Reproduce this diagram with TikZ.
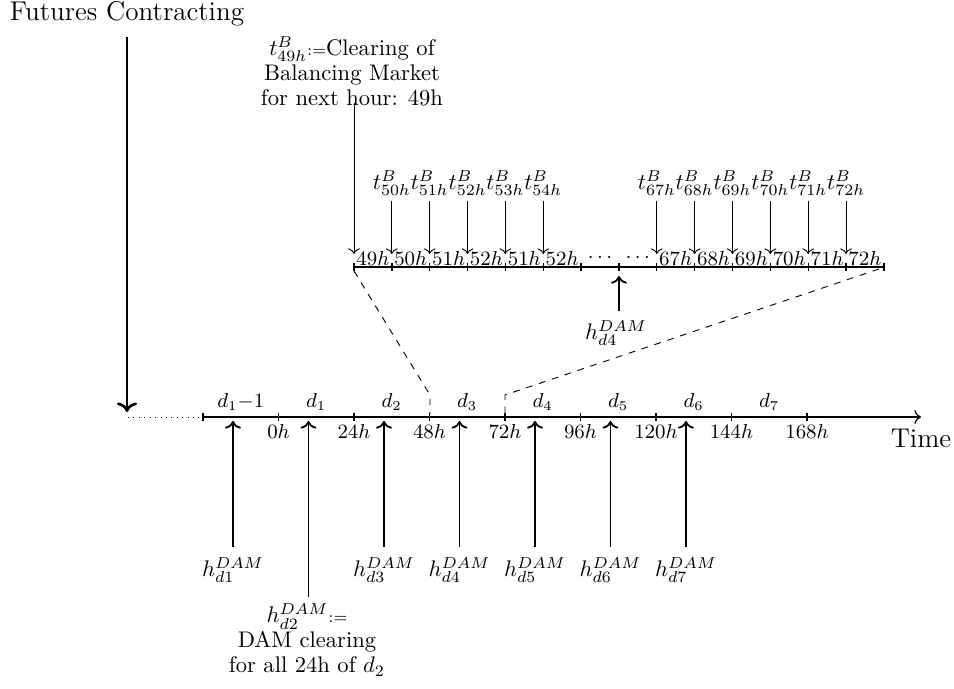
\documentclass[tikz,border=0pt]{standalone}
\usetikzlibrary{arrows.meta}
\begin{document}
\begin{tikzpicture}[x=0.443pt,y=-0.443pt,
  lbl/.style={inner sep=0pt},
  smalllbl/.style={inner sep=0pt,font=\small},
  blk/.style={inner sep=0pt,align=center,font=\fontsize{10}{11}\selectfont},
  bigarrow/.style={very thick,->},
  uparrow/.style={thick,->},
  thinarrow/.style={->},
  axisline/.style={semithick},
  tickmark/.style={semithick}]
\useasboundingbox (0,0) rectangle (954,689);

% Futures contracting
\node[lbl,font=\large] (fc) at (127,14) {Futures Contracting};
\coordinate (fcA) at (127,37);
\coordinate (fcB) at (127,412);
\draw[bigarrow] (fcA) -- (fcB);

% main axis
\coordinate (ax0) at (203,417);
\coordinate (axE) at (921,417);
\coordinate (dotS) at (128,417);
\draw[dotted] (dotS) -- (ax0);
\draw[axisline,->] (ax0) -- (axE);
\foreach \i in {0,...,8} {
  \coordinate (t\i) at (203+75.5*\i,417);
  \draw[tickmark] ([yshift=1.8pt]t\i) -- ([yshift=-1.8pt]t\i);
}
\foreach \i/\lab in {1/0h,2/24h,3/48h,4/72h,5/96h,6/120h,7/144h,8/168h}
  \node[smalllbl] (tl\i) at (203+75.5*\i,431) {$\lab$};
\foreach \i/\lab in {0/d_1{-}1,1/d_1,2/d_2,3/d_3,4/d_4,5/d_5,6/d_6,7/d_7}
  \node[smalllbl] (dl\i) at (240.75+75.5*\i,402) {$\lab$};
\node[lbl,font=\large] (time) at (921,438) {Time};

% DAM arrows
\foreach \i/\k in {0/1,2/3,3/4,4/5,5/6,6/7} {
  \coordinate (ua\i) at (233+75.5*\i,421);
  \coordinate (ub\i) at (233+75.5*\i,547);
  \draw[uparrow] (ub\i) -- (ua\i);
  \node[lbl] (hl\i) at (233+75.5*\i,570) {$h^{DAM}_{d\k}$};
}
\coordinate (ua1) at (308.5,421);
\coordinate (ub1) at (308.5,597);
\draw[uparrow] (ub1) -- (ua1);
\node[blk] (hd2) at (307,640) {$h^{DAM}_{d2}{\scriptstyle :=}$\\DAM clearing\\for all 24h of $d_2$};

% zoomed axis
\coordinate (z0) at (354,267);
\coordinate (zE) at (884,267);
\draw[axisline] (z0) -- (zE);
\foreach \k in {0,...,14} {
  \coordinate (zt\k) at (354+37.85*\k,267);
  \draw[tickmark] ([yshift=1.8pt]zt\k) -- ([yshift=-1.8pt]zt\k);
}
\foreach \k/\lab in {0/49h,1/50h,2/51h,3/52h,4/51h,5/52h,6/\cdots,7/\cdots,8/67h,9/68h,10/69h,11/70h,12/71h,13/72h}
  \node[smalllbl] (zl\k) at (372.9+37.85*\k,258) {$\lab$};

% balancing arrows
\foreach \k/\lab in {1/50h,2/51h,3/52h,4/53h,5/54h,8/67h,9/68h,10/69h,11/70h,12/71h,13/72h} {
  \coordinate (tb\k) at (354+37.85*\k,201);
  \coordinate (te\k) at (354+37.85*\k,254);
  \draw[thinarrow] (tb\k) -- (te\k);
  \node[lbl] (tbl\k) at (354+37.85*\k,183) {$t^B_{\lab}$};
}
\coordinate (tb0) at (354,103);
\coordinate (te0) at (354,254);
\draw[thinarrow] (tb0) -- (te0);
\node[blk] (t49) at (352,71) {$t^B_{49h}{\scriptstyle :=}$Clearing of\\Balancing Market\\for next hour: 49h};

% h_d4 in zoom
\coordinate (h4a) at (619,276);
\coordinate (h4b) at (619,311);
\draw[uparrow] (h4b) -- (h4a);
\node[lbl] (h4l) at (616,333) {$h^{DAM}_{d4}$};

% dashed zoom lines
\coordinate (dl1) at (354,271);
\coordinate (dl2) at (430,395);
\coordinate (dl3) at (430,414);
\coordinate (dr1) at (879,269);
\coordinate (dr2) at (505,395);
\coordinate (dr3) at (505,414);
\draw[dashed] (dl1) -- (dl2) -- (dl3);
\draw[dashed] (dr1) -- (dr2) -- (dr3);
\end{tikzpicture}
\end{document}
